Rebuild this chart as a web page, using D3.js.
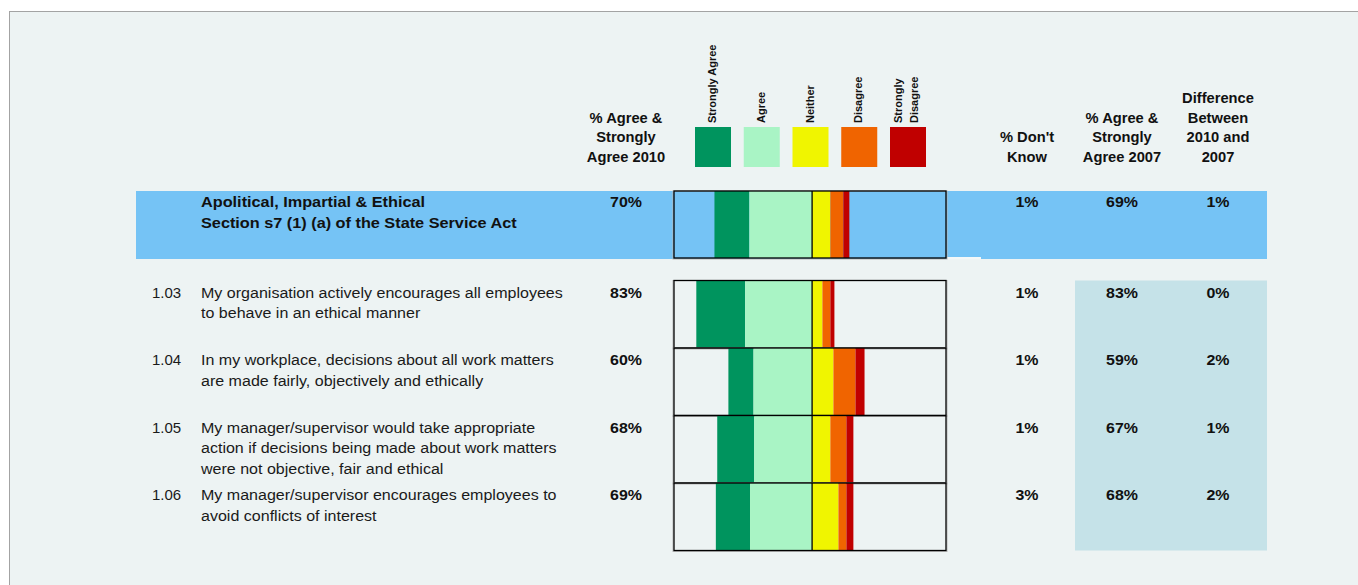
<!DOCTYPE html>
<html>
<head>
<meta charset="utf-8">
<script src="https://cdn.jsdelivr.net/npm/d3@7/dist/d3.min.js"></script>
<style>
  html, body { margin: 0; padding: 0; background: #ffffff; }
  svg { display: block; font-family: "Liberation Sans", Arial, sans-serif; }
</style>
</head>
<body>
<svg id="chart" width="1358" height="585"></svg>
<script>
// ---- Response categories and legend ----
const categories = ["Strongly Agree", "Agree", "Neither", "Disagree", "Strongly Disagree"];
const legendLines = [["Strongly Agree"], ["Agree"], ["Neither"], ["Disagree"], ["Strongly", "Disagree"]];
const categoryColors = ["#00945e", "#a9f4c5", "#f0f500", "#f06400", "#c00000"];

// ---- Section summary row ----
const sectionTitle = ["Apolitical, Impartial & Ethical", "Section s7 (1) (a) of the State Service Act"];
const sectionStronglyAgree = [25];
const sectionAgree = [45];
const sectionNeither = [13.1];
const sectionDisagree = [9.3];
const sectionStronglyDisagree = [4.3];
const sectionDontKnow = [1];
const sectionAgree2007 = [69];
const sectionDifference = [1];

// ---- Question rows ----
const questionIds = ["1.03", "1.04", "1.05", "1.06"];
const questionText = [
  ["My organisation actively encourages all employees", "to behave in an ethical manner"],
  ["In my workplace, decisions about all work matters", "are made fairly, objectively and ethically"],
  ["My manager/supervisor would take appropriate", "action if decisions being made about work matters", "were not objective, fair and ethical"],
  ["My manager/supervisor encourages employees to", "avoid conflicts of interest"]
];
const stronglyAgree    = [35, 18, 26.5, 24.5];
const agree            = [48, 42, 41.5, 44.5];
const neither          = [7.4, 15.3, 13.1, 18.9];
const disagree         = [5.7, 15.8, 11.5, 5.7];
const stronglyDisagree = [2.9, 6.5, 5.0, 5.0];
const dontKnow         = [1, 1, 1, 3];
const agree2007        = [83, 59, 67, 68];
const difference       = [0, 2, 1, 2];

// ---- Column headers ----
const colHeaders = [
  { key: "a2010", lines: ["% Agree &", "Strongly", "Agree 2010"] },
  { key: "dk",    lines: ["% Don't", "Know"] },
  { key: "a2007", lines: ["% Agree &", "Strongly", "Agree 2007"] },
  { key: "diff",  lines: ["Difference", "Between", "2010 and", "2007"] }
];

// ---- Build row records ----
function makeRow(i, sa, a, n, d, sd, dk, a07, diff) {
  return {
    i, segments: [
      { cat: 0, x0: -(sa + a), x1: -a },
      { cat: 1, x0: -a, x1: 0 },
      { cat: 2, x0: 0, x1: n },
      { cat: 3, x0: n, x1: n + d },
      { cat: 4, x0: n + d, x1: n + d + sd }
    ],
    a2010: sa + a, dk, a07, diff
  };
}
const section = makeRow(0, sectionStronglyAgree[0], sectionAgree[0], sectionNeither[0],
  sectionDisagree[0], sectionStronglyDisagree[0], sectionDontKnow[0], sectionAgree2007[0], sectionDifference[0]);
const rows = questionIds.map((id, i) => Object.assign(
  makeRow(i, stronglyAgree[i], agree[i], neither[i], disagree[i], stronglyDisagree[i],
    dontKnow[i], agree2007[i], difference[i]),
  { id, text: questionText[i] }));

const pct = d3.format(".0f");

// ---- Scales ----
const x = d3.scaleLinear().domain([-99, 96]).range([674, 946]);
const y = d3.scaleBand().domain(questionIds).range([280.5, 550.5]).padding(0);
const sectionTop = 191, sectionBottom = 258;
const colX = d3.scaleOrdinal().domain(["a2010", "dk", "a2007", "diff"]).range([626, 1027, 1122, 1218]);
const legendX = d3.scalePoint().domain(categories).range([713, 908]);
const color = d3.scaleOrdinal().domain(d3.range(5)).range(categoryColors);

const svg = d3.select("#chart");

// Multi-line text block with a slight horizontal stretch (the report font runs wide)
function textBlock(parent, tx, ty, lines, o) {
  const t = parent.append("text")
    .attr("transform", `translate(${tx},${ty}) scale(${o.sx || 1},1)`)
    .attr("font-size", o.size).attr("font-weight", o.bold ? "bold" : "normal")
    .attr("text-anchor", o.anchor || "start").attr("fill", o.fill || "#111");
  t.selectAll("tspan").data(lines).join("tspan")
    .attr("x", 0).attr("y", (l, j) => j * (o.lh || 20)).text(l => l);
  return t;
}

// Panel background
svg.append("rect")
  .attr("x", 9.5).attr("y", 11.5).attr("width", 1400).attr("height", 620)
  .attr("fill", "#edf3f3").attr("stroke", "#a3a3a3").attr("stroke-width", 1);

// Section band
svg.append("rect")
  .attr("x", 136).attr("y", sectionTop).attr("width", 1267 - 136).attr("height", sectionBottom - sectionTop + 1)
  .attr("fill", "#75c3f5");
svg.append("rect")
  .attr("x", 947).attr("y", sectionBottom - 1).attr("width", 34).attr("height", 2.5)
  .attr("fill", "#f4f8f8");

// 2007 comparison panel
svg.append("rect")
  .attr("x", 1075).attr("y", y.range()[0]).attr("width", 1267 - 1075).attr("height", y.range()[1] - y.range()[0])
  .attr("fill", "#c5e2e8");

// ---- Legend ----
const legend = svg.append("g");
legend.selectAll("rect").data(categories).join("rect")
  .attr("x", d => legendX(d) - 18).attr("y", 127).attr("width", 36).attr("height", 40)
  .attr("fill", (d, i) => categoryColors[i]);
legend.selectAll("text").data(categories).join("text")
  .attr("transform", d => `translate(${legendX(d)},123) rotate(-90)`)
  .attr("font-size", 11).attr("font-weight", "bold").attr("fill", "#111")
  .each(function (d, i) {
    const lines = legendLines[i];
    const offs = lines.length === 1 ? [3] : [-6, 10];
    d3.select(this).selectAll("tspan").data(lines).join("tspan")
      .attr("x", 0).attr("y", (l, j) => offs[j]).text(l => l);
  });

// ---- Column headers ----
const headers = svg.append("g");
colHeaders.forEach(h => {
  const n = h.lines.length;
  textBlock(headers, colX(h.key), 162 - (n - 1) * 19.6, h.lines,
    { size: 14, bold: true, anchor: "middle", sx: 1.05, lh: 19.6 });
});

// ---- Stacked bars ----
function drawBars(g, row, top, bottom) {
  g.append("rect")
    .attr("x", x.range()[0] - 1).attr("y", top).attr("width", x.range()[1] - x.range()[0] + 2)
    .attr("height", bottom - top + 1).attr("fill", "none").attr("stroke", "#b5b5b5").attr("stroke-width", 1);
  g.selectAll("rect.seg").data(row.segments).join("rect").attr("class", "seg")
    .attr("x", d => x(d.x0)).attr("y", top)
    .attr("width", d => x(d.x1) - x(d.x0)).attr("height", bottom - top)
    .attr("fill", d => color(d.cat));
  g.append("rect")
    .attr("x", x.range()[0]).attr("y", top).attr("width", x.range()[1] - x.range()[0])
    .attr("height", bottom - top).attr("fill", "none").attr("stroke", "#000").attr("stroke-width", 1.3);
  g.append("line")
    .attr("x1", x(0)).attr("x2", x(0)).attr("y1", top).attr("y2", bottom)
    .attr("stroke", "#000").attr("stroke-width", 1.3);
}

drawBars(svg.append("g"), section, sectionTop, sectionBottom);
rows.forEach(r => drawBars(svg.append("g"), r, y(r.id), y(r.id) + y.bandwidth()));

// ---- Value columns ----
function drawValues(g, row, baseline) {
  const vals = [["a2010", row.a2010], ["dk", row.dk], ["a2007", row.a07], ["diff", row.diff]];
  vals.forEach(v => textBlock(g, colX(v[0]), baseline, [pct(v[1]) + "%"],
    { size: 15.5, bold: true, anchor: "middle", sx: 1.03 }));
}

// Section text
const sg = svg.append("g");
textBlock(sg, 201, 207, sectionTitle, { size: 15.5, bold: true, sx: 1.05, lh: 20.7 });
drawValues(sg, section, 207);

// Question text
rows.forEach(r => {
  const g = svg.append("g");
  const base = y(r.id) + 17;
  textBlock(g, 152, base, [r.id], { size: 15, sx: 1.0, fill: "#1a1a1a" });
  textBlock(g, 201, base, r.text, { size: 15, sx: 1.07, lh: 20.7, fill: "#1a1a1a" });
  drawValues(g, r, base);
});
</script>
</body>
</html>
